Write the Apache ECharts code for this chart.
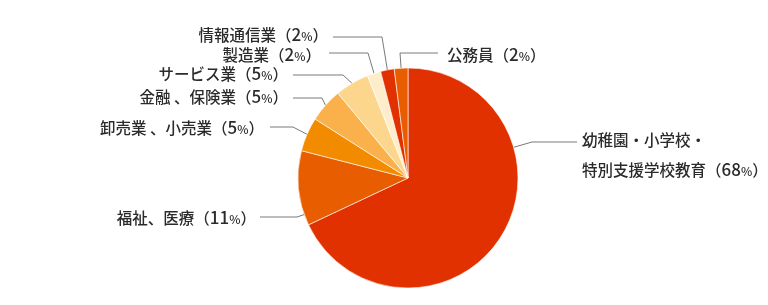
<!DOCTYPE html>
<html><head><meta charset="utf-8">
<style>html,body{margin:0;padding:0;background:#fff;}#c{width:768px;height:305px;}</style>
<script src="https://cdn.jsdelivr.net/npm/echarts@6/dist/echarts.min.js"></script>
</head><body><div id="c"></div>
<script>
// ---- data ----
const categories = ['幼稚園・小学校・\n特別支援学校教育', '福祉、医療', '卸売業 、小売業', '金融 、保険業', 'サービス業', '製造業', '情報通信業', '公務員'];
const values = [68, 11, 5, 5, 5, 2, 2, 2];

// ---- style ----
const palette = ['#e13100', '#e75d00', '#f28b00', '#fab14b', '#fdd68d', '#feedcb', '#e13100', '#e75d00'];
const CX = 408, CY = 178, R = 110;
const layouts = [
  {ang: 73.8,  bend: [532, 142], end: [577, 142], tx: 582, ty: 155, align: 'left'},
  {ang: 250.6, bend: [297, 217], end: [260, 217], tx: 256, ty: 218, align: 'right'},
  {ang: null,  bend: [293, 127], end: [270, 127], tx: 264, ty: 128, align: 'right'},
  {ang: null,  bend: [322, 98],  end: [293, 98],  tx: 288, ty: 97,  align: 'right'},
  {ang: null,  bend: [343, 75],  end: [293, 75],  tx: 288, ty: 74,  align: 'right'},
  {ang: null,  bend: [368, 53],  end: [329, 53],  tx: 321, ty: 55,  align: 'right'},
  {ang: null,  bend: [382, 37],  end: [333, 37],  tx: 328, ty: 35,  align: 'right'},
  {ang: null,  bend: [400, 53],  end: [438, 53],  tx: 447, ty: 55,  align: 'left'}
];

const total = values.reduce((a, b) => a + b, 0);
const midAngles = [];
let cum = 0;
values.forEach(v => { midAngles.push((cum + v / 2) / total * 360); cum += v; });

const FONT = '"Noto Sans CJK JP", "Noto Sans", sans-serif';
const chart = echarts.init(document.getElementById('c'), null, {renderer: 'canvas'});
chart.setOption({
  animation: false,
  backgroundColor: '#fff',
  series: [{
    type: 'pie',
    center: [CX, CY],
    radius: R,
    startAngle: 90,
    clockwise: true,
    avoidLabelOverlap: false,
    emphasis: {disabled: true},
    itemStyle: {borderColor: '#fff', borderWidth: 0.6},
    data: categories.map((c, i) => ({name: c, value: values[i], itemStyle: {color: palette[i]}})),
    label: {
      show: true,
      position: 'outside',
      formatter: p => {
        const lines = p.name.split('\n');
        return lines.map((ln, i) => i < lines.length - 1 ? `{t|${ln}}` : `{t|${ln}（}{n|${p.value}}{p|%}{t|）}`).join('\n');
      },
      rich: {
        t: {fontSize: 15.5, fontWeight: 500, color: '#2b2b2b', lineHeight: 30, fontFamily: FONT},
        n: {fontSize: 17, fontWeight: 500, color: '#2b2b2b', lineHeight: 30, fontFamily: FONT},
        p: {fontSize: 12, fontWeight: 500, color: '#2b2b2b', lineHeight: 30, fontFamily: FONT, padding: [3, 0, 0, 0]}
      }
    },
    labelLine: {show: true, length: 10, length2: 10, lineStyle: {color: '#7a7a7a', width: 1}},
    labelLayout: function (params) {
      const i = params.dataIndex;
      const L = layouts[i];
      const a = (L.ang != null ? L.ang : midAngles[i]) * Math.PI / 180;
      const p0 = [CX + R * Math.sin(a), CY - R * Math.cos(a)];
      return {x: L.tx, y: L.ty, align: L.align, verticalAlign: 'middle', labelLinePoints: [p0, L.bend, L.end]};
    }
  }]
});
</script>
</body></html>
